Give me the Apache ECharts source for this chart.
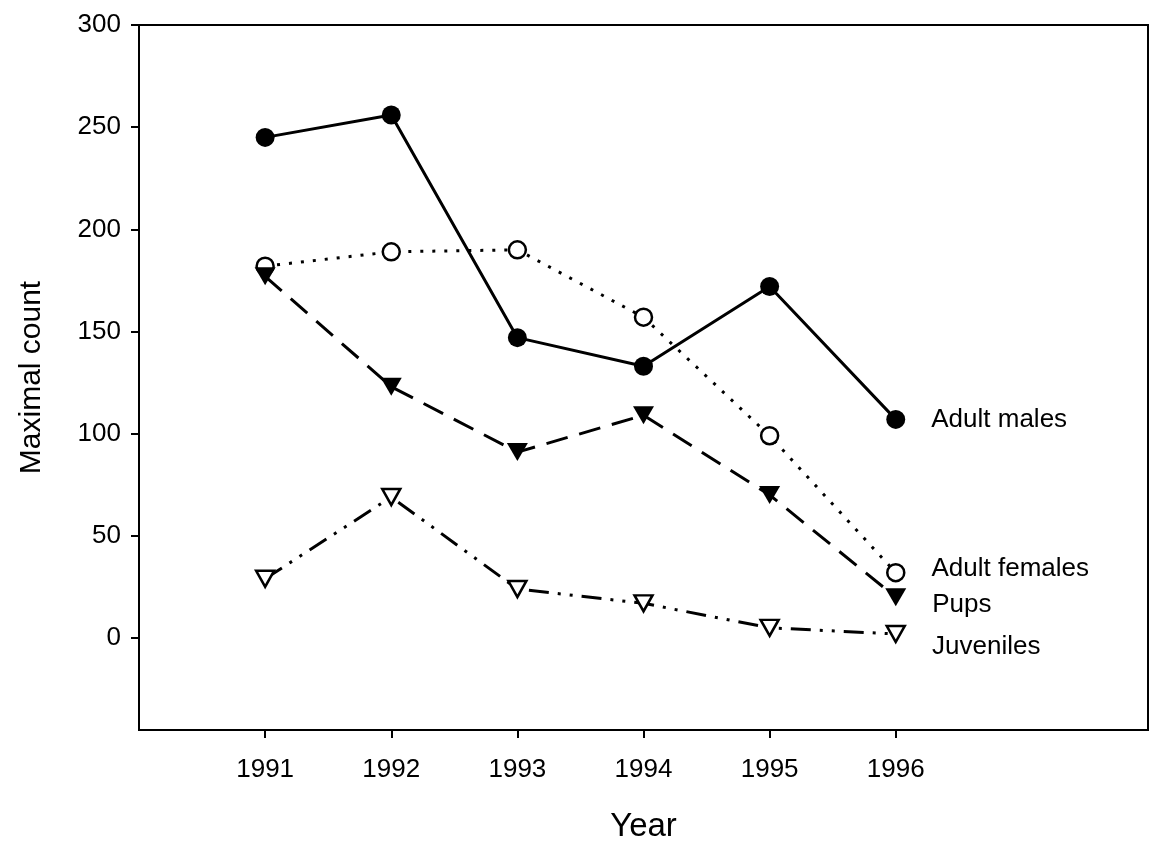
<!DOCTYPE html>
<html>
<head>
<meta charset="utf-8">
<script src="https://cdn.jsdelivr.net/npm/echarts@6/dist/echarts.min.js"></script>
<style>
  html, body { margin: 0; padding: 0; background: #fff; }
  #chart { width: 1153px; height: 848px; }
</style>
</head>
<body>
<div id="chart"></div>
<script>
// years + counts
const years = [1991, 1992, 1993, 1994, 1995, 1996]
const adultMales = [245, 256, 147, 133, 172, 107]
const adultFemales = [182, 189, 190, 157, 99, 32]
const pups = [177, 123, 91, 109, 70, 20]
const juveniles = [29, 69, 24, 17, 5, 2]
const yTicks = [0, 50, 100, 150, 200, 250, 300]

const font = 'Liberation Sans, Arial, sans-serif'

// pair years with values, label only the last point
function pts(vals, name, dy) {
    return vals.map((v, i) => {
        let p = { value: [years[i], v] }
        if (i === vals.length - 1) {
            p.label = {
                show: true,
                position: 'right',
                distance: 26,
                offset: [0, dy],
                formatter: name,
                color: '#000',
                fontFamily: font,
                fontSize: 26
            }
        }
        return p
    })
}

let mycharts = echarts.init(document.getElementById('chart'))
mycharts.setOption({
    animation: false,
    backgroundColor: '#fff',
    grid: {
        left: 139,
        right: 5,
        top: 25,
        bottom: 118,
        show: true,
        borderColor: '#000',
        borderWidth: 2
    },
    xAxis: {
        type: 'value',
        min: 1990,
        max: 1998,
        name: 'Year',
        nameLocation: 'middle',
        nameGap: 80,
        nameTextStyle: { fontFamily: font, fontSize: 33, color: '#000' },
        splitLine: { show: false },
        axisLine: { show: true, onZero: false, lineStyle: { color: '#000', width: 2 } },
        axisTick: { show: true, customValues: years, length: 8, lineStyle: { color: '#000', width: 2 } },
        axisLabel: {
            customValues: years,
            formatter: v => String(v),
            margin: 27,
            fontFamily: font,
            fontSize: 26,
            color: '#000'
        }
    },
    yAxis: {
        type: 'value',
        min: -45,
        max: 300,
        name: 'Maximal count',
        nameLocation: 'middle',
        nameGap: 92,
        nameTextStyle: { fontFamily: font, fontSize: 30, color: '#000' },
        splitLine: { show: false },
        axisLine: { show: true, onZero: false, lineStyle: { color: '#000', width: 2 } },
        axisTick: { show: true, customValues: yTicks, length: 8, lineStyle: { color: '#000', width: 2 } },
        axisLabel: {
            customValues: yTicks,
            margin: 18,
            fontFamily: font,
            fontSize: 26,
            color: '#000'
        }
    },
    series: [
        {
            name: 'Adult males',
            type: 'line',
            data: pts(adultMales, 'Adult males', 0),
            symbol: 'circle',
            symbolSize: 19,
            itemStyle: { color: '#000' },
            lineStyle: { color: '#000', width: 3, type: 'solid' }
        },
        {
            name: 'Adult females',
            type: 'line',
            data: pts(adultFemales, 'Adult females', -4),
            symbol: 'circle',
            symbolSize: 17,
            itemStyle: { color: '#fff', borderColor: '#000', borderWidth: 2.5 },
            lineStyle: { color: '#000', width: 3, type: [3, 9] }
        },
        {
            name: 'Pups',
            type: 'line',
            data: pts(pups, 'Pups', 8),
            symbol: 'triangle',
            symbolRotate: 180,
            symbolSize: [21, 18],
            itemStyle: { color: '#000' },
            lineStyle: { color: '#000', width: 3, type: [22, 12] }
        },
        {
            name: 'Juveniles',
            type: 'line',
            data: pts(juveniles, 'Juveniles', 13),
            symbol: 'triangle',
            symbolRotate: 180,
            symbolSize: [18, 16],
            itemStyle: { color: '#fff', borderColor: '#000', borderWidth: 2.5 },
            lineStyle: { color: '#000', width: 3, type: [20, 9, 3, 9, 3, 9] }
        }
    ]
})
</script>
</body>
</html>
